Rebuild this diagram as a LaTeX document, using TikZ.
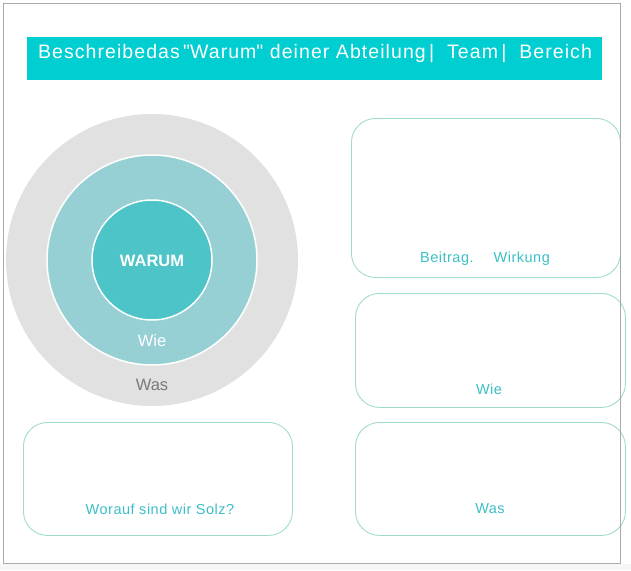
\documentclass[tikz,border=0pt]{standalone}
\usepackage{fontspec}
\setmainfont{Liberation Sans}
\newfontfamily\weitschrift[LetterSpace=5.5]{Liberation Sans}
\newfontfamily\kastenschrift[LetterSpace=3.5]{Liberation Sans}
\usetikzlibrary{positioning}
\definecolor{tuerkis}{RGB}{0,206,209}
\definecolor{ringgrau}{RGB}{225,225,225}
\definecolor{ringmitte}{RGB}{150,208,213}
\definecolor{ringkern}{RGB}{77,196,200}
\definecolor{kastenlinie}{RGB}{160,220,205}
\definecolor{schrift}{RGB}{60,190,200}
\definecolor{rahmen}{RGB}{170,170,170}
\tikzset{
  kasten/.style={draw=kastenlinie, line width=0.9pt, rounded corners=24pt, anchor=north west, inner sep=0pt},
  beschriftung/.style={text=schrift, font=\kastenschrift\fontsize{14.5}{17}\selectfont},
  ring/.style={circle, inner sep=0pt},
  ringtext/.style={font=\fontsize{16.5}{19}\selectfont}
}
\begin{document}
\begin{tikzpicture}[x=1pt,y=-1pt]
  \useasboundingbox (0,0) rectangle (631,570);
  \fill[gray!7] (0,564) rectangle (631,570);

  % Titel
  \node[fill=tuerkis, minimum width=575pt, minimum height=43pt, anchor=north west, inner sep=0pt] (titel) at (27,37) {};
  \node[text=white, font=\weitschrift\fontsize{19.5}{22}\selectfont] (titeltext) at (315,54) {Beschreibedas\,\textquotedbl Warum\textquotedbl\ deiner Abteilung\,|\ \ Team\,|\ \ Bereich};

  % Kreise
  \node[ring, fill=ringgrau, minimum size=292pt] (was) at (152,260) {};
  \node[ring, fill=ringmitte, draw=white, line width=1.5pt, minimum size=210pt] (wie) at (was.center) {};
  \node[ring, fill=ringkern, draw=white, line width=1.5pt, minimum size=120pt] (warum) at (was.center) {};
  \node[ringtext, text=white, font=\fontsize{16.5}{19}\bfseries] (warumtext) at (152,261) {WARUM};
  \node[ringtext, text=white] (wietext) at (152,341) {Wie};
  \node[ringtext, text=gray!95!black] (wastext) at (152,385) {Was};

  % Kaesten
  \node[kasten, minimum width=269pt, minimum height=159pt] (beitrag) at (351,118) {};
  \node[kasten, minimum width=270pt, minimum height=114pt] (wiebox) at (355,293) {};
  \node[kasten, minimum width=270pt, minimum height=113pt] (wasbox) at (355,422) {};
  \node[kasten, minimum width=269pt, minimum height=113pt] (solz) at (23,422) {};

  \node[beschriftung] (beitraglabel) at (485,259) {Beitrag.\hspace{20pt}Wirkung};
  \node[beschriftung] (wielabel) at (489,389) {Wie};
  \node[beschriftung] (waslabel) at (490,509) {Was};
  \node[beschriftung] (solzlabel) at (160,509) {Worauf sind wir Solz?};

  \draw[rahmen, line width=0.8pt] (3.5,3.5) rectangle (620.5,563.5);
\end{tikzpicture}
\end{document}
